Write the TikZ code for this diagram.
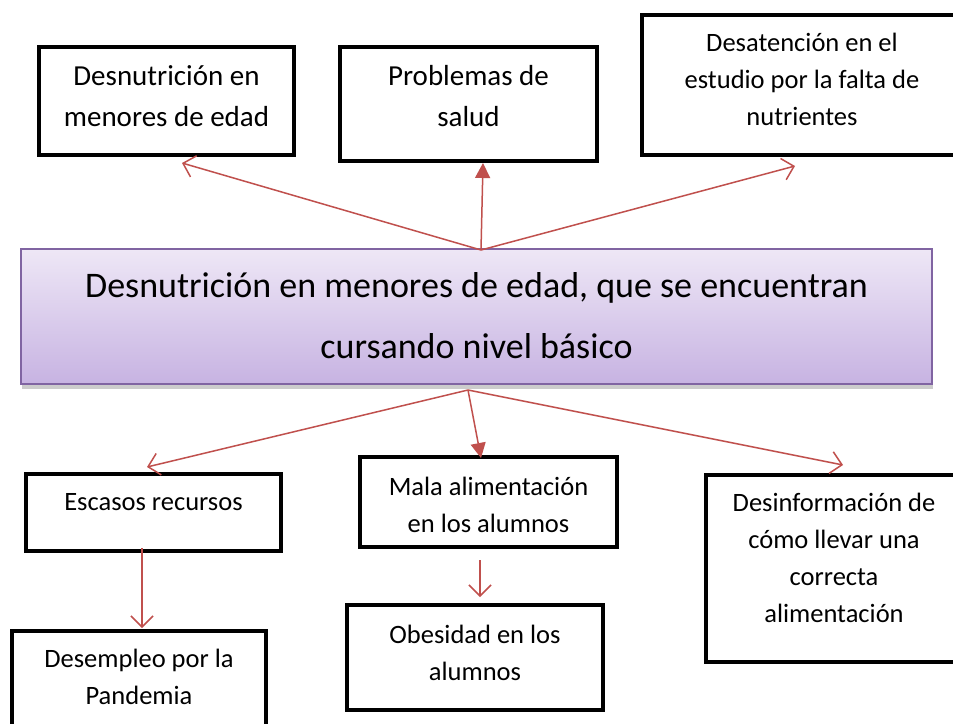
\documentclass[tikz,border=0pt]{standalone}
\usepackage{fontspec}
\setmainfont{Carlito}
\usetikzlibrary{positioning, arrows.meta, shadows}
\definecolor{linkred}{HTML}{C0504D}
\definecolor{mainedge}{HTML}{8064A2}
\definecolor{maintop}{HTML}{EEE7F6}
\definecolor{mainbottom}{HTML}{C7B3E2}

\begin{document}
\begin{tikzpicture}[
	x=1pt, y=-1pt,
	box/.style={draw=black, line width=4pt, fill=white, align=center, inner sep=2pt},
	bigtext/.style={font=\fontsize{29}{41}\selectfont},
	smalltext/.style={font=\fontsize{26.5}{37}\selectfont},
	textdrop/.style={text height=0pt, text depth=#1},
	textlift/.style={text height=#1, text depth=0pt},
	link/.style={draw=linkred, line width=1.5pt, -{Straight Barb[length=11pt,width=22pt]}},
	solidlink/.style={draw=linkred, line width=1.5pt, -{Triangle[length=15pt,width=15pt]}}
	]
	\fill[white] (0,0) rectangle (953,723);
	\useasboundingbox (0,0) rectangle (953,723);

	\node (main) at (476.5,316.5)[draw=mainedge, line width=2pt, top color=maintop, bottom color=mainbottom,
		drop shadow={shadow xshift=1pt, shadow yshift=-5pt, fill=black!50, opacity=0.4},
		minimum width=911pt, minimum height=135pt, align=center, textlift=84.6pt,
		font=\fontsize{36}{61}\selectfont]
		{Desnutrición en menores de edad, que se encuentran\\cursando nivel básico};

	\node (kids) at (166.5,101)[box, bigtext, textlift=51.4pt, minimum width=255pt, minimum height=108pt]
		{Desnutrición en\\menores de edad};
	\node (health) at (468.5,104)[box, bigtext, textlift=45.4pt, minimum width=257pt, minimum height=114pt]
		{Problemas de\\salud};
	\node (study) at (802,85)[box, smalltext, textlift=80pt, minimum width=321pt, minimum height=140pt]
		{Desatención en el\\estudio por la falta de\\nutrientes};

	\node (money) at (153.5,512.5)[box, smalltext, textdrop=5pt, minimum width=255pt, minimum height=77pt]
		{Escasos recursos};
	\node (food) at (488.5,502)[box, smalltext, textlift=60pt, minimum width=257pt, minimum height=90pt]
		{Mala alimentación\\en los alumnos};
	\node (info) at (834,568.5)[box, smalltext, textlift=107pt, minimum width=257pt, minimum height=187pt]
		{Desinformación de\\cómo llevar una\\correcta\\alimentación};
	\node (jobs) at (139,678.5)[box, smalltext, textlift=51pt, minimum width=254pt, minimum height=95pt]
		{Desempleo por la\\Pandemia};
	\node (obese) at (475,657.5)[box, smalltext, textlift=45pt, minimum width=256pt, minimum height=105pt]
		{Obesidad en los\\alumnos};

	\draw[link] ([shift={(4.5,2)}]main.north) -- ([shift={(15.5,6)}]kids.south);
	\draw[solidlink] ([shift={(4.5,2)}]main.north) -- ([shift={(14.5,0)}]health.south);
	\draw[link] ([shift={(4.5,2)}]main.north) -- ([shift={(-7,9)}]study.south);

	\draw[link] ([shift={(-8.5,5)}]main.south) -- ([shift={(-6.5,-5)}]money.north);
	\draw[solidlink] ([shift={(-8.5,5)}]main.south) -- ([shift={(-7.5,3)}]food.north);
	\draw[link] ([shift={(-8.5,5)}]main.south) -- ([shift={(9,-8)}]info.north);

	\draw[link] ([shift={(-11.5,-5)}]money.south) -- ([shift={(3,-1)}]jobs.north);
	\draw[link] ([shift={(-8.5,11)}]food.south) -- ([shift={(5,-6)}]obese.north);
\end{tikzpicture}
\end{document}
